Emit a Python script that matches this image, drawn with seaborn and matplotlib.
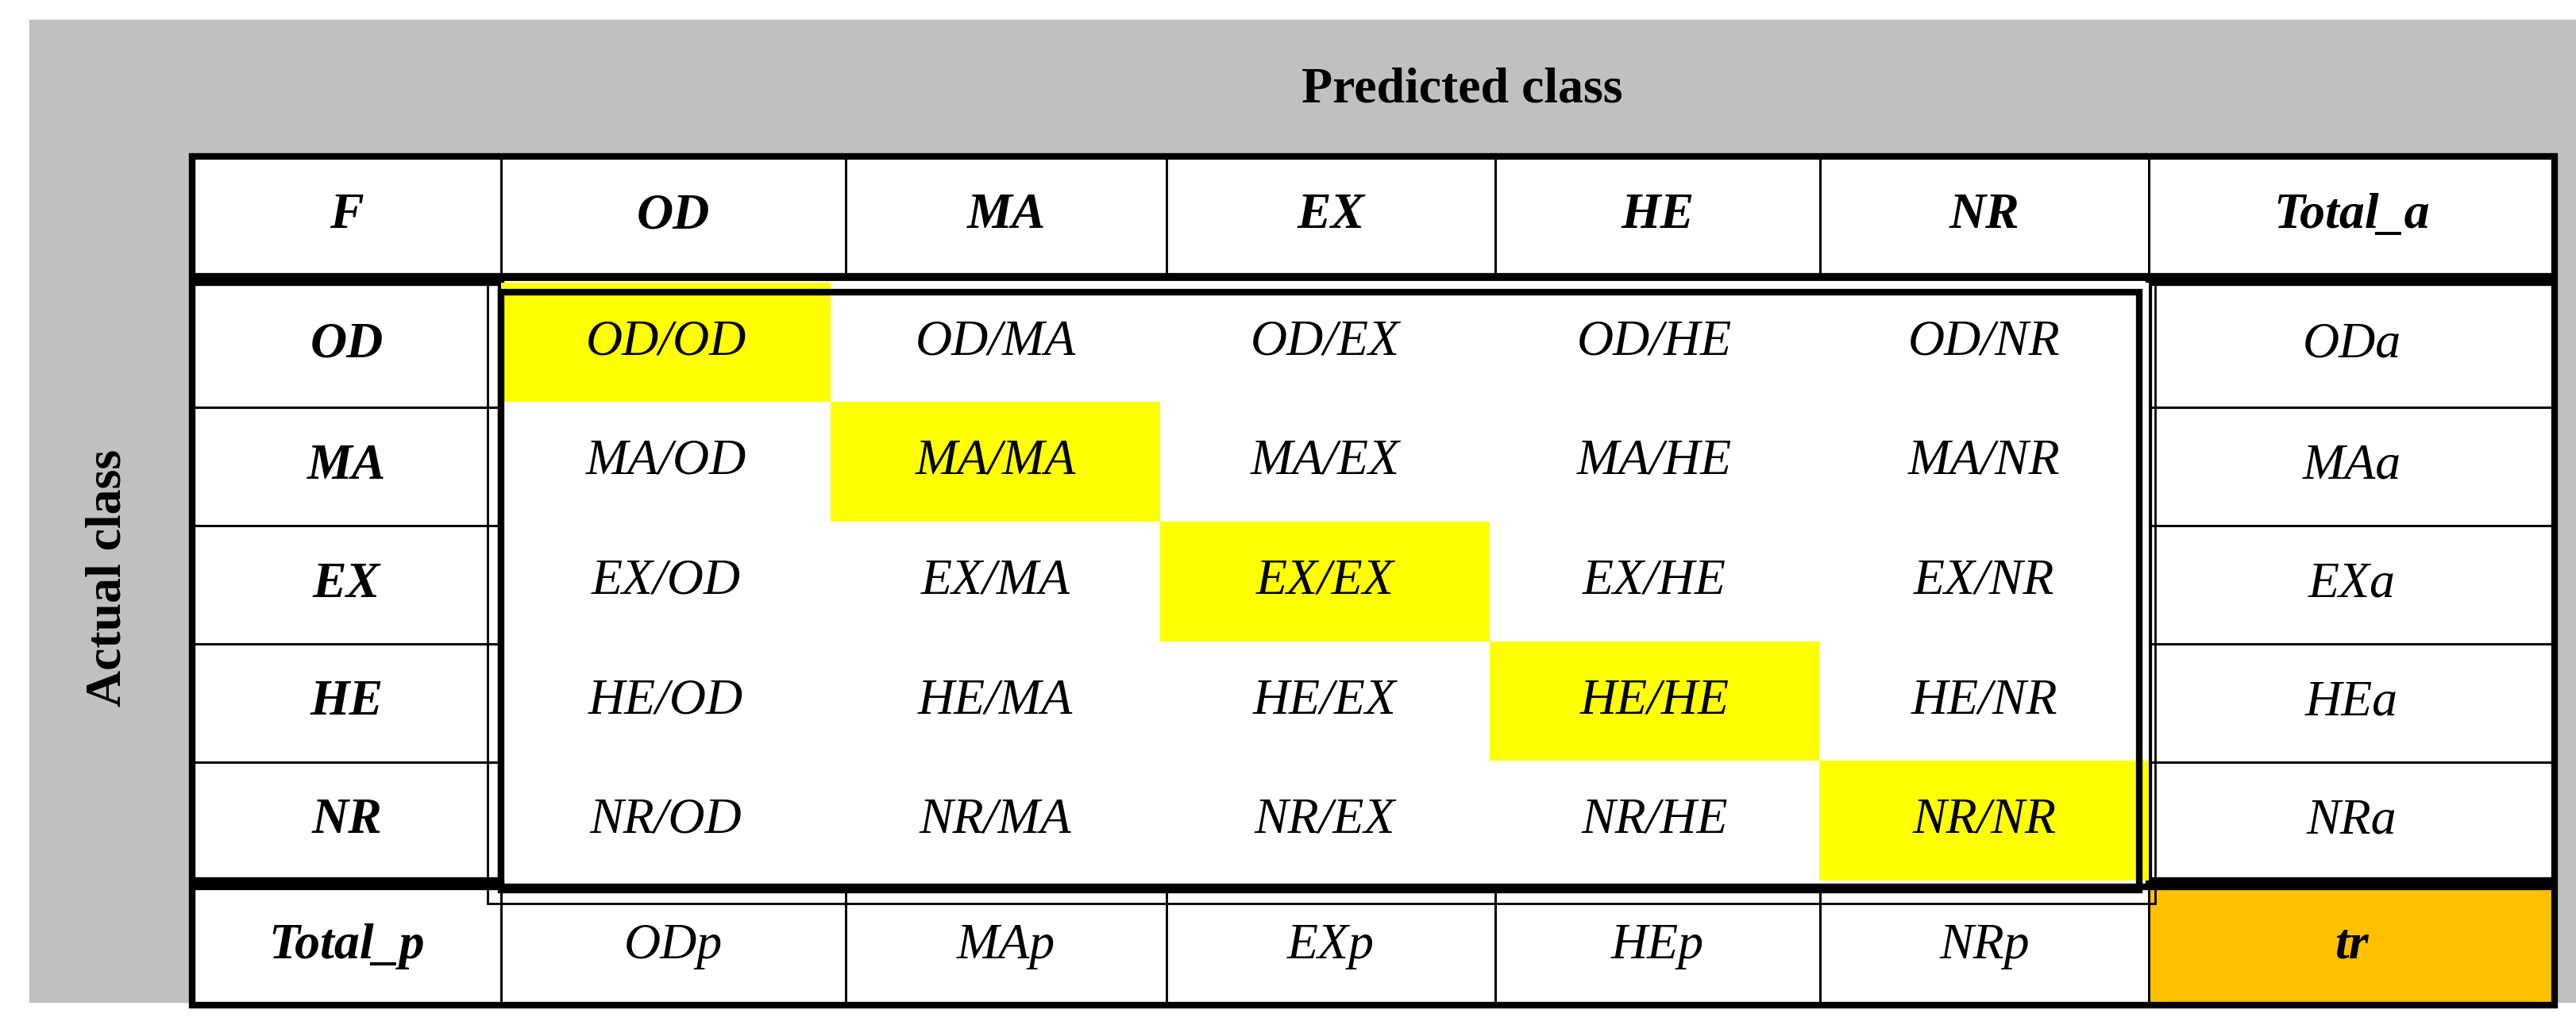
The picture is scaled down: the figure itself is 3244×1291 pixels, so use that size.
import matplotlib
matplotlib.use("Agg")
import matplotlib.pyplot as plt
import seaborn as sns
import numpy as np
from matplotlib.patches import Rectangle

classes = ["OD", "MA", "EX", "HE", "NR"]
corner = "F"
total_a = "Total_a"
total_p = "Total_p"
grand = "tr"
title_top = "Predicted class"
title_left = "Actual class"

sns.set_style("white")
plt.rcParams['font.family'] = ['Liberation Serif', 'DejaVu Serif']
plt.rcParams['text.color'] = 'black'

W, H = 1568, 624
fig = plt.figure(figsize=(32.44, 12.91), dpi=100)
ax = fig.add_axes([0, 0, 1, 1])
ax.set_xlim(0, W); ax.set_ylim(H, 0); ax.axis("off")

FS = 46
thick, thin = 6, 2
K = "black"
ax.add_patch(Rectangle((18, 12), W - 18, 598, color="#c0c0c0", zorder=0))
ax.add_patch(Rectangle((117, 95), 1438, 517, color="white", zorder=1))
ax.text(890, 55, title_top, ha="center", va="center", fontsize=FS, fontweight="bold", zorder=3)
ax.text(66, 352, title_left, ha="center", va="center", fontsize=FS, fontweight="bold", rotation=90, zorder=3)

cols = [117, 305, 515, 710, 910, 1108, 1308, 1555]
row_top, row_bot = 95, 168
body = [172, 248, 320, 392, 464, 536]
tot_top, tot_bot = 540, 612

def cell(x0, x1, y0, y1, txt, bold=False, face=None, lw=thin):
    if face:
        ax.add_patch(Rectangle((x0, y0), x1 - x0, y1 - y0, facecolor=face, edgecolor="none", zorder=2))
    ax.add_patch(Rectangle((x0, y0), x1 - x0, y1 - y0, fill=False, lw=lw, edgecolor=K, zorder=4))
    ax.text((x0 + x1) / 2, (y0 + y1) / 2, txt, ha="center", va="center", fontsize=FS,
            style="italic", fontweight="bold" if bold else "normal", zorder=5)

def box(x0, y0, w, h):
    ax.add_patch(Rectangle((x0, y0), w, h, fill=False, lw=thick, edgecolor=K, zorder=6))

hdr = [corner] + classes + [total_a]
for i, t in enumerate(hdr):
    cell(cols[i], cols[i + 1], row_top, row_bot, t, bold=True)
box(117, row_top, 1438, row_bot - row_top)
for r, c in enumerate(classes):
    cell(117, 305, body[r], body[r + 1], c, bold=True)
    cell(1308, 1555, body[r], body[r + 1], c + "a")
box(117, body[0], 188, body[-1] - body[0])
box(1308, body[0], 247, body[-1] - body[0])
cell(117, 305, tot_top, tot_bot, total_p, bold=True)
for i, c in enumerate(classes):
    cell(cols[i + 1], cols[i + 2], tot_top, tot_bot, c + "p")
cell(1308, 1555, tot_top, tot_bot, grand, bold=True, face="#ffc000")
box(117, tot_top, 1438, tot_bot - tot_top)

mat = np.eye(len(classes))
labels = np.array([[f"{a}/{b}" for b in classes] for a in classes])
hax = fig.add_axes([305 / W, 1 - 536 / H, (1308 - 305) / W, (536 - 172) / H])
sns.heatmap(mat, ax=hax, cmap=matplotlib.colors.ListedColormap(["white", "#ffff00"]),
            cbar=False, annot=labels, fmt="",
            annot_kws={"fontsize": FS, "fontstyle": "italic", "color": "black"})
hax.set_xticks([]); hax.set_yticks([])
for s in hax.spines.values():
    s.set_visible(False)

ax2 = fig.add_axes([0, 0, 1, 1]); ax2.set_xlim(0, W); ax2.set_ylim(H, 0); ax2.axis("off")
ax2.add_patch(Rectangle((297, 170), 1015, 380, fill=False, lw=thin, edgecolor=K))
ax2.add_patch(Rectangle((305, 178), 997, 364, fill=False, lw=thick, edgecolor=K))

fig.savefig("out.png", dpi=100)
